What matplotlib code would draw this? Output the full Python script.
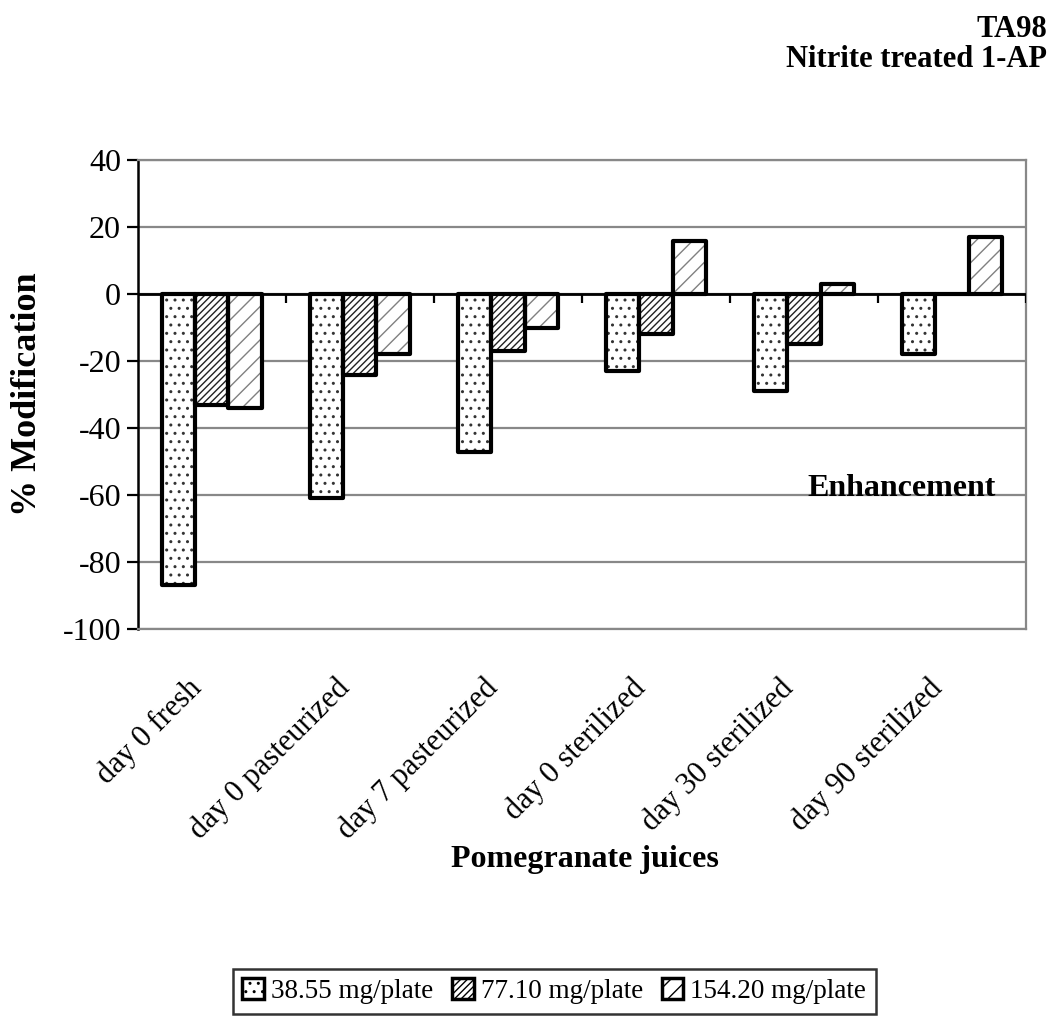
import numpy as np
import matplotlib.pyplot as plt
from matplotlib.patches import Patch
from matplotlib.transforms import ScaledTranslation

plt.rcParams['font.family'] = ['Liberation Serif', 'DejaVu Serif']
plt.rcParams['axes.unicode_minus'] = False

juices = ['day 0 fresh', 'day 0 pasteurized', 'day 7 pasteurized',
          'day 0 sterilized', 'day 30 sterilized', 'day 90 sterilized']
dose_38 = [-87, -61, -47, -23, -29, -18]
dose_77 = [-33, -24, -17, -12, -15, 0]
dose_154 = [-34, -18, -10, 16, 3, 17]
doses = ['38.55 mg/plate', '77.10 mg/plate', '154.20 mg/plate']
series = [dose_38, dose_77, dose_154]
hatches = ['..', '/////', '//']
hatch_colors = ['#333333', '#222222', '#808080']

fig = plt.figure(figsize=(10.59, 10.21), dpi=100)
ax = fig.add_axes([0.130, 0.384, 0.839, 0.459])

x = np.arange(len(juices))
w = 0.225
for i, (vals, h, hc) in enumerate(zip(series, hatches, hatch_colors)):
    pos = x + (i - 1) * w
    # pattern layer first, outline on top so the hatch can stay grey
    ax.bar(pos, vals, w, color='white', edgecolor=hc, hatch=h, linewidth=0, zorder=3)
    ax.bar(pos, vals, w, facecolor='none', edgecolor='black', linewidth=3,
           joinstyle='round', zorder=4)

ax.set_xlim(-0.5, len(juices) - 0.5)
ax.set_ylim(-100, 40)
ax.set_yticks(range(-100, 41, 20))
ax.yaxis.grid(True, color='#888888', linewidth=1.6)
ax.set_axisbelow(True)

# zero line with category separators
ax.axhline(0, color='black', linewidth=2, zorder=5)
ax.vlines(np.arange(len(juices) + 1) - 0.5, -2.6, 0, color='black', linewidth=1.6, zorder=5)

for side in ['top', 'right', 'bottom']:
    ax.spines[side].set_color('#888888')
    ax.spines[side].set_linewidth(1.6)
ax.spines['left'].set_color('black')
ax.spines['left'].set_linewidth(1.8)

ax.tick_params(axis='y', length=8, width=1.6, labelsize=23, pad=4)
ax.set_xticks(x)
ax.set_xticklabels(juices, rotation=45, ha='right', rotation_mode='anchor', fontsize=22)
ax.tick_params(axis='x', length=0, pad=12)
shift = ScaledTranslation(-0.25, -0.28, fig.dpi_scale_trans)
for lab in ax.get_xticklabels():
    lab.set_transform(lab.get_transform() + shift)

ax.set_ylabel('% Modification', fontsize=26, fontweight='bold')
ax.yaxis.set_label_coords(-0.105, 0.5)
ax.set_xlabel('Pomegranate juices', fontsize=23, fontweight='bold')
ax.xaxis.set_label_coords(0.503, -0.46)

ax.text(4.02, -58, 'Enhancement', fontsize=23, fontweight='bold', va='center', ha='left')

fig.text(0.9887, 0.9638, 'TA98', fontsize=22, fontweight='bold', ha='right', va='baseline')
fig.text(0.9887, 0.9344, 'Nitrite treated 1-AP', fontsize=22, fontweight='bold',
         ha='right', va='baseline')

handles = [Patch(facecolor='white', edgecolor='black', hatch=h, linewidth=2.5) for h in hatches]
leg = fig.legend(handles, doses, loc='upper left', bbox_to_anchor=(0.220, 0.051),
                 ncol=3, fontsize=19.5, frameon=True, fancybox=False,
                 handlelength=0.8, handleheight=0.8, handletextpad=0.25,
                 columnspacing=0.7, borderpad=0.35, borderaxespad=0)
leg.get_frame().set_edgecolor('black')
leg.get_frame().set_linewidth(1.8)

fig.savefig('out.png', dpi=100)
